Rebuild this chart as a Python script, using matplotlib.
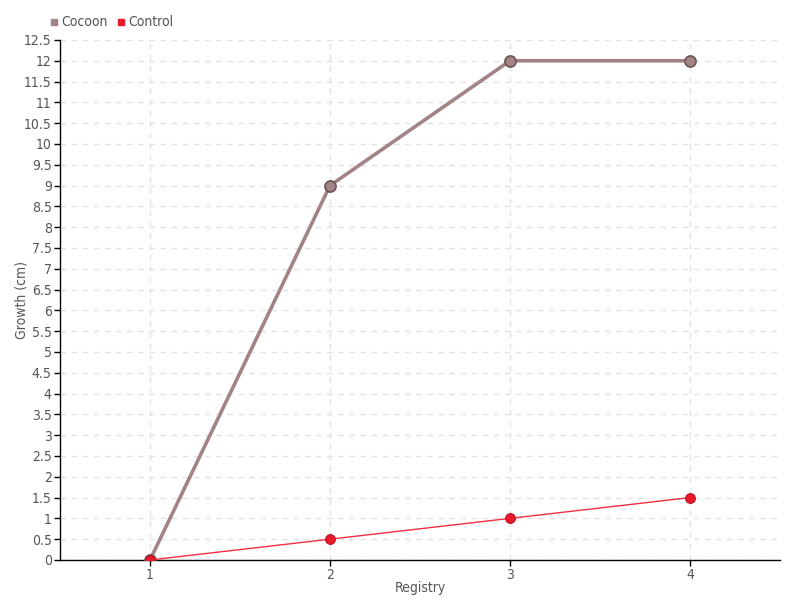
import numpy as np
import matplotlib
matplotlib.use("Agg")
import matplotlib.pyplot as plt
from matplotlib.lines import Line2D

# Data
registry = [1, 2, 3, 4]
cocoon = [0, 9, 12, 12]
control = [0, 0.5, 1, 1.5]

plt.rcParams['font.family'] = ['DejaVu Sans']
plt.rcParams['font.stretch'] = 'condensed'

fig = plt.figure(figsize=(8, 6), dpi=100)
ax = fig.add_axes([0.075, 0.0667, 0.9, 0.8667])

ax.plot(registry, cocoon, color='#a38486', lw=2.6, marker='o', ms=8,
        mfc='#a38486', mec='#6e5456', mew=1.2, zorder=3)
ax.plot(registry, control, color='#f0303f', lw=1, marker='o', ms=7,
        mfc='#e8192c', mec='#c01020', mew=0.8, zorder=4)

ax.set_xlim(0.5, 4.5)
ax.set_ylim(0, 12.5)
ax.set_xticks(registry)
ax.set_xticklabels([str(r) for r in registry])
yt = np.arange(0, 12.51, 0.5)
ax.set_yticks(yt)
ax.set_yticklabels([('%g' % v) for v in yt])

ax.grid(True, color='#e2e2e2', ls=(0, (4, 4)), lw=1)
ax.set_axisbelow(True)
for s in ['top', 'right']:
    ax.spines[s].set_visible(False)
for s in ['left', 'bottom']:
    ax.spines[s].set_color('black')
    ax.spines[s].set_linewidth(1)
ax.tick_params(axis='both', colors='black', labelcolor='#555555', labelsize=10,
               length=4, width=1, pad=2)

ax.set_xlabel('Registry', color='#555555', fontsize=10)
ax.set_ylabel('Growth (cm)', color='#555555', fontsize=10)
ax.xaxis.set_label_coords(0.5, -0.04)
ax.yaxis.set_label_coords(-0.044, 0.5)

handles = [Line2D([], [], ls='', marker='s', ms=5, color='#a38486'),
           Line2D([], [], ls='', marker='s', ms=5, color='#e8192c')]
fig.legend(handles, ['Cocoon', 'Control'], loc='upper left',
           bbox_to_anchor=(0.045, 0.995), ncol=2, frameon=False,
           handletextpad=0.1, columnspacing=0.6, handlelength=0.8,
           labelcolor='#555555', fontsize=10)

fig.savefig('out.png', dpi=100)
